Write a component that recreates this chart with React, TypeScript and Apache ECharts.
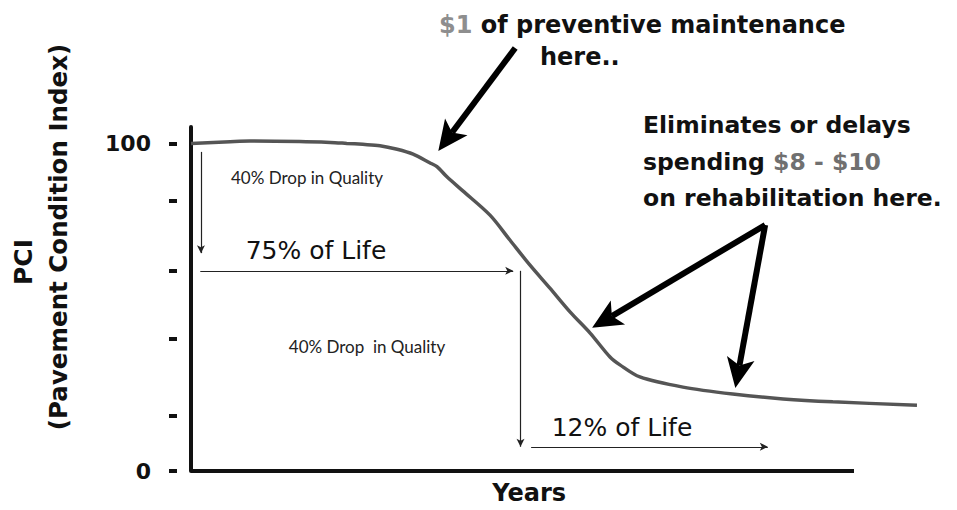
import React, { useEffect, useRef } from 'react';
import * as echarts from 'echarts';

// Curve: years (0-100 = length of drawn x axis) vs PCI
const curveYears = [0, 5.9, 8.9, 16.4, 21.0, 23.5, 25.9, 28.5, 31.1, 33.5, 36.0, 37.1, 38.6, 41.0, 45.1, 48.1, 51.1, 54.1, 57.2, 60.2, 63.2, 64.7, 67.7, 74.2, 81.7, 89.3, 96.8, 109.5];
const curvePCI = [100, 100.5, 100.7, 100.6, 100.3, 100.0, 99.7, 99.3, 98.2, 96.7, 94.1, 92.9, 89.8, 85.5, 78.1, 70.5, 62.9, 55.9, 48.5, 42.1, 34.8, 32.4, 28.7, 25.6, 23.5, 22.0, 21.1, 20.1];

const yTickValues = [0, 16.8, 40.5, 61.1, 82.4, 100];
const yLabelValues = [0, 100];
const xAxisEnd = 100;

// thin annotation arrows [start, end] in (years, PCI)
const thinArrows: number[][][] = [
  [[1.5, 97.4], [1.5, 66.5]],
  [[1.4, 61.1], [48.6, 61.1]],
  [[49.7, 61.1], [49.7, 7.4]],
  [[51.3, 7.4], [87.0, 7.4]],
];
// thick callout arrows
const thickArrows: number[][][] = [
  [[48.9, 129.1], [37.3, 97.7]],
  [[86.6, 75.1], [60.5, 43.7]],
  [[86.6, 75.1], [82.1, 25.3]],
];

export default function App() {
  const ref = useRef<HTMLDivElement>(null);
  useEffect(() => {
    const chart = echarts.init(ref.current!, null, { renderer: 'svg' });
    const FF = '"DejaVu Sans"';
    const INK = '#111';
    const markData: any[] = [
      [
        { coord: [0, 0], symbol: 'none', lineStyle: { color: INK, width: 4, type: 'solid' } },
        { coord: [xAxisEnd, 0], symbol: 'none' },
      ],
    ];
    thinArrows.forEach(([a, b]) => {
      markData.push([
        { coord: a, symbol: 'none', lineStyle: { color: '#222', width: 1.2, type: 'solid' } },
        { coord: b, symbol: 'arrow', symbolSize: [6, 8] },
      ]);
    });

    const texts: any[] = [
      {
        type: 'text', x: 439, y: 25,
        style: {
          text: '{g|$1} of preventive maintenance',
          font: `bold 24px ${FF}`, fill: INK, textAlign: 'left', textVerticalAlign: 'middle',
          rich: { g: { fill: '#8e8e8e', font: `bold 24px ${FF}` } },
        },
      },
      {
        type: 'text', x: 540, y: 57,
        style: { text: 'here..', font: `bold 24px ${FF}`, fill: INK, textAlign: 'left', textVerticalAlign: 'middle' },
      },
      {
        type: 'text', x: 643, y: 125,
        style: { text: 'Eliminates or delays', font: `bold 23.5px ${FF}`, fill: INK, textAlign: 'left', textVerticalAlign: 'middle' },
      },
      {
        type: 'text', x: 643, y: 162,
        style: {
          text: 'spending {g|$8 - $10}',
          font: `bold 23.5px ${FF}`, fill: INK, textAlign: 'left', textVerticalAlign: 'middle',
          rich: { g: { fill: '#707070', font: `bold 23.5px ${FF}` } },
        },
      },
      {
        type: 'text', x: 643, y: 198,
        style: { text: 'on rehabilitation here.', font: `bold 23.5px ${FF}`, fill: INK, textAlign: 'left', textVerticalAlign: 'middle' },
      },
      {
        type: 'text', x: 307, y: 177,
        style: { text: '40% Drop in Quality', font: '17px Lato', fill: '#222', textAlign: 'center', textVerticalAlign: 'middle' },
      },
      {
        type: 'text', x: 367, y: 346,
        style: { text: '40% Drop  in Quality', font: '17px Lato', fill: '#222', textAlign: 'center', textVerticalAlign: 'middle' },
      },
      {
        type: 'text', x: 316, y: 250,
        style: { text: '75% of Life', font: `25px ${FF}`, fill: '#111', textAlign: 'center', textVerticalAlign: 'middle' },
      },
      {
        type: 'text', x: 622, y: 427,
        style: { text: '12% of Life', font: `25px ${FF}`, fill: '#111', textAlign: 'center', textVerticalAlign: 'middle' },
      },
      {
        type: 'text', x: 23, y: 262, rotation: Math.PI / 2,
        style: { text: 'PCI', font: `bold 25px ${FF}`, fill: INK, textAlign: 'center', textVerticalAlign: 'middle' },
      },
      {
        type: 'text', x: 58, y: 237, rotation: Math.PI / 2,
        style: { text: '(Pavement Condition Index)', font: `bold 24.5px ${FF}`, fill: INK, textAlign: 'center', textVerticalAlign: 'middle' },
      },
    ];

    const option: any = {
      animation: false,
      backgroundColor: '#fff',
      grid: { left: 191, right: 36.7, top: 127, bottom: 39 },
      xAxis: {
        type: 'value',
        min: 0,
        max: 110,
        axisLine: { show: false },
        axisTick: { show: false },
        axisLabel: { show: false },
        splitLine: { show: false },
        name: 'Years',
        nameLocation: 'middle',
        nameGap: 10,
        nameTextStyle: { fontFamily: FF, fontWeight: 'bold', fontSize: 24, color: INK, padding: [0, 53, 0, 0], verticalAlign: 'top' },
      },
      yAxis: [
        {
          type: 'value',
          min: 0,
          max: 105,
          axisLine: { show: true, lineStyle: { color: INK, width: 4 } },
          axisTick: { show: false },
          axisLabel: { show: false },
          splitLine: { show: false },
        },
        {
          type: 'value',
          min: 0,
          max: 105,
          position: 'left',
          offset: 14,
          axisLine: { show: false },
          axisTick: { show: true, length: 8, customValues: yTickValues, lineStyle: { color: INK, width: 4 } },
          axisLabel: { show: true, customValues: yLabelValues, margin: 26, fontFamily: FF, fontWeight: 'bold', fontSize: 22, color: INK },
          splitLine: { show: false },
        },
      ],
      series: [
        {
          type: 'line',
          data: curveYears.map((x, i) => [x, curvePCI[i]]),
          smooth: 0.3,
          showSymbol: false,
          silent: true,
          lineStyle: { color: '#555', width: 3.5 },
          markLine: {
            silent: true,
            animation: false,
            label: { show: false },
            emphasis: { disabled: true },
            data: markData,
          },
        },
      ],
      graphic: texts,
    };
    chart.setOption(option);

    // thick callout arrows, positioned from data coordinates
    const arrows: any[] = [];
    const L = 30, W = 14, NOTCH = 7;
    thickArrows.forEach(([a, b]) => {
      const S = chart.convertToPixel({ xAxisIndex: 0, yAxisIndex: 0 }, a) as number[];
      const T = chart.convertToPixel({ xAxisIndex: 0, yAxisIndex: 0 }, b) as number[];
      const dx = T[0] - S[0], dy = T[1] - S[1];
      const len = Math.hypot(dx, dy);
      const ux = dx / len, uy = dy / len;
      const nx = -uy, ny = ux;
      const bx = T[0] - ux * L, by = T[1] - uy * L;
      const Nx = T[0] - ux * (L - NOTCH), Ny = T[1] - uy * (L - NOTCH);
      arrows.push({
        type: 'line', silent: true,
        shape: { x1: S[0], y1: S[1], x2: Nx, y2: Ny },
        style: { stroke: '#000', lineWidth: 6 },
      });
      arrows.push({
        type: 'polygon', silent: true,
        shape: { points: [[T[0], T[1]], [bx + nx * W, by + ny * W], [Nx, Ny], [bx - nx * W, by - ny * W]] },
        style: { fill: '#000' },
      });
    });
    chart.setOption({ graphic: [...texts, ...arrows] });
    return () => chart.dispose();
  }, []);
  return (
    <div
      ref={ref}
      style={{ position: 'fixed', left: 0, top: 0, width: 957, height: 510, background: '#fff' }}
    />
  );
}
